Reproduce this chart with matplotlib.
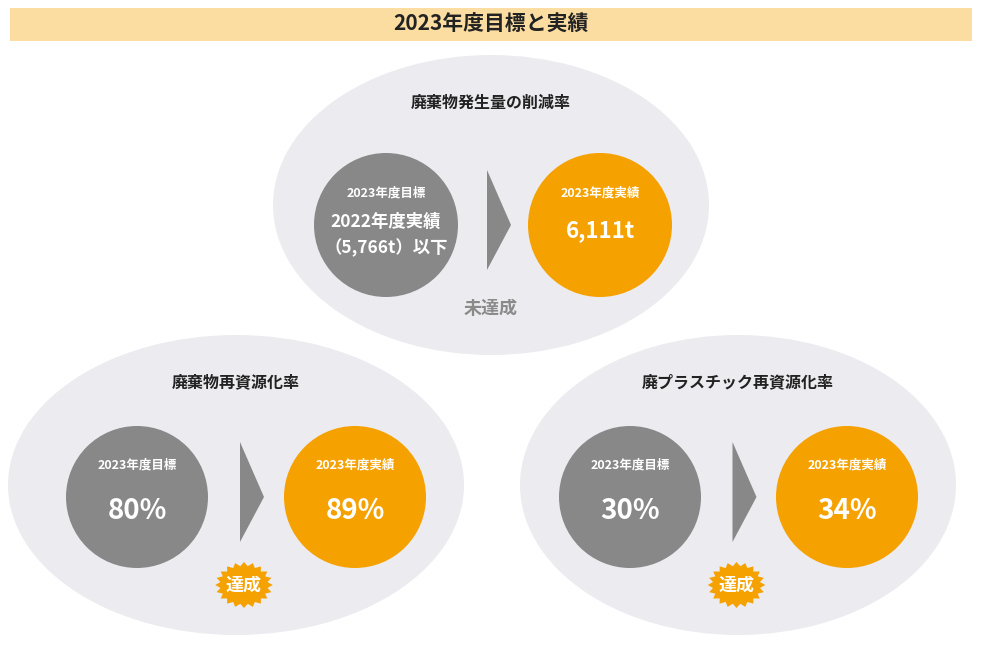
import numpy as np
import matplotlib
matplotlib.use("Agg")
import matplotlib.pyplot as plt
from matplotlib.patches import Ellipse, Circle, Polygon, Rectangle

plt.rcParams["font.family"] = "Noto Sans CJK JP"

title = "2023年度目標と実績"
panels = ["廃棄物発生量の削減率", "廃棄物再資源化率", "廃プラスチック再資源化率"]
target_labels = ["2023年度目標", "2023年度目標", "2023年度目標"]
target_values = ["2022年度実績\n（5,766t）以下", "80%", "30%"]
result_labels = ["2023年度実績", "2023年度実績", "2023年度実績"]
result_values = ["6,111t", "89%", "34%"]
status = ["未達成", "達成", "達成"]

GRAY = "#888888"
ORANGE = "#F5A100"
BG = "#ECEBEF"

fig = plt.figure(figsize=(9.82, 6.54), dpi=100)
ax = fig.add_axes([0, 0, 1, 1])
ax.set_xlim(0, 982)
ax.set_ylim(654, 0)
ax.axis("off")

ax.add_patch(Rectangle((10, 8), 962, 33, color="#FBDDA2", lw=0))
ax.text(491, 24, title, ha="center", va="center", fontsize=15, fontweight="bold", color="#222222")

layout = [  # ellipse cx, cy, w, h, gray cx, orange cx, circle cy, r
    (491, 205, 436, 300, 386, 600, 225, 72),
    (236, 485, 456, 300, 137, 355, 497, 71),
    (738, 485, 436, 300, 630, 847, 497, 71),
]

def starburst(cx, cy, r1, r2, n=20):
    ang = np.linspace(0, 2 * np.pi, 2 * n, endpoint=False)
    rr = np.where(np.arange(2 * n) % 2 == 0, r1, r2)
    return np.column_stack([cx + rr * np.cos(ang) * 1.25, cy + rr * np.sin(ang)])

for i, (ex, ey, ew, eh, gx, ox, cy, r) in enumerate(layout):
    ax.add_patch(Ellipse((ex, ey), ew, eh, color=BG, lw=0))
    ax.text(ex, ey - 102 if i == 0 else ey - 103, panels[i], ha="center", va="center",
            fontsize=11.5, fontweight="bold", color="#222222")
    ax.add_patch(Circle((gx, cy), r, color=GRAY, lw=0))
    ax.add_patch(Circle((ox, cy), r, color=ORANGE, lw=0))
    axm = (gx + ox) / 2 + 6
    ax.add_patch(Polygon([(axm - 12, cy - 55), (axm + 12, cy), (axm - 12, cy + 45)],
                         color=GRAY, lw=0))
    ax.text(gx, cy - 32, target_labels[i], ha="center", va="center", fontsize=9,
            fontweight="bold", color="white")
    ax.text(ox, cy - 32, result_labels[i], ha="center", va="center", fontsize=9,
            fontweight="bold", color="white")
    if i == 0:
        ax.text(gx, cy + 10, target_values[i], ha="center", va="center", fontsize=12.5,
                fontweight="bold", color="white", linespacing=1.5)
        ax.text(ox, cy + 6, result_values[i], ha="center", va="center", fontsize=16,
                fontweight="bold", color="white")
        ax.text(491, 308, status[i], ha="center", va="center", fontsize=13,
                fontweight="bold", color="#8A8A8A")
    else:
        ax.text(gx, cy + 14, target_values[i], ha="center", va="center", fontsize=20,
                fontweight="bold", color="white")
        ax.text(ox, cy + 14, result_values[i], ha="center", va="center", fontsize=20,
                fontweight="bold", color="white")
        bx = axm - 8
        ax.add_patch(Polygon(starburst(bx, 585, 23, 19), color=ORANGE, lw=0))
        ax.text(bx, 585, status[i], ha="center", va="center", fontsize=13,
                fontweight="bold", color="white")

fig.savefig("out.png", dpi=100)
